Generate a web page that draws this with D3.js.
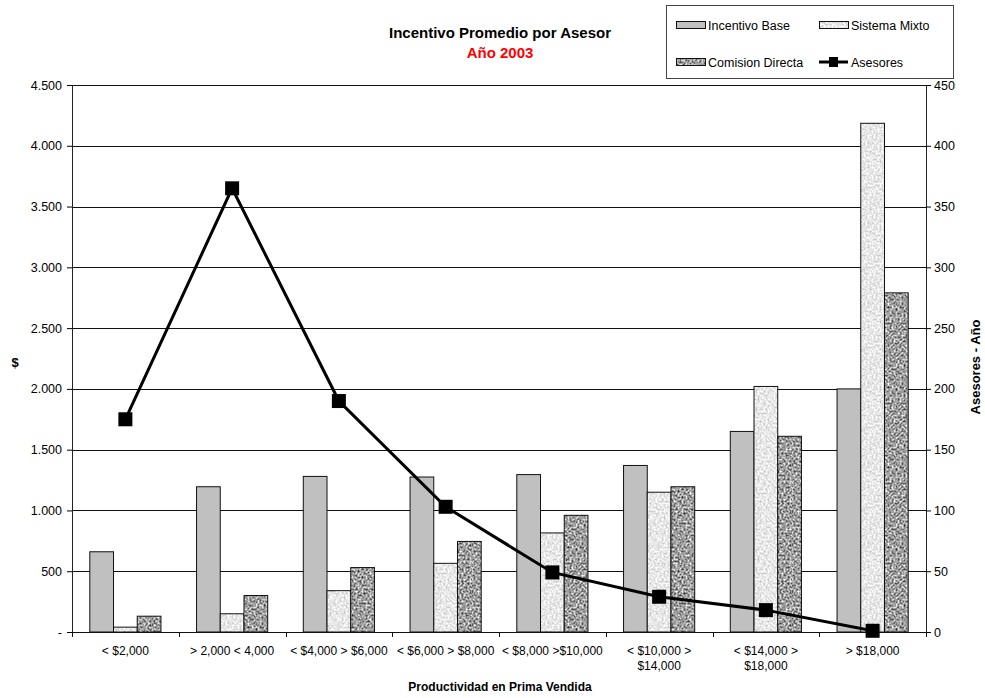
<!DOCTYPE html>
<html>
<head>
<meta charset="utf-8">
<script src="https://cdn.jsdelivr.net/npm/d3@7"></script>
<style>
  body { margin: 0; background: #fff; }
  text { font-family: Arial, "Liberation Sans", sans-serif; }
</style>
</head>
<body>
<svg id="chart" width="985" height="698"></svg>
<script>
var categories = ["< $2,000", "> 2,000 < 4,000", "< $4,000 > $6,000", "< $6,000 > $8,000",
                  "< $8,000 >$10,000", "< $10,000 >|$14,000", "< $14,000 >|$18,000", "> $18,000"];
var seriesNames = ["Incentivo Base", "Sistema Mixto", "Comision Directa"];
var incentivoBase = [660, 1195, 1280, 1275, 1295, 1370, 1650, 2000];
var sistemaMixto = [40, 150, 340, 565, 815, 1150, 2020, 4185];
var comisionDirecta = [130, 300, 530, 745, 960, 1195, 1610, 2790];
var asesores = [175, 365, 190, 103, 49, 29, 18, 1];
var leftTicks = [0, 500, 1000, 1500, 2000, 2500, 3000, 3500, 4000, 4500];
var rightTicks = [0, 50, 100, 150, 200, 250, 300, 350, 400, 450];

var svg = d3.select("#chart"),
    margin = {left: 72, right: 59, top: 85, bottom: 66},
    width = 985 - margin.left - margin.right,
    height = 698 - margin.top - margin.bottom;

var defs = svg.append("defs");

// grainy grey textures (noise -> grey levels, fully opaque)
function texture(id, k, b, freq, seed) {
  var f = defs.append("filter").attr("id", id + "-f")
      .attr("filterUnits", "userSpaceOnUse")
      .attr("color-interpolation-filters", "sRGB")
      .attr("x", 0).attr("y", 0).attr("width", 80).attr("height", 80);
  f.append("feTurbulence").attr("type", "fractalNoise")
    .attr("baseFrequency", freq).attr("numOctaves", 2).attr("seed", seed);
  f.append("feColorMatrix").attr("type", "matrix").attr("values", [
    k, 0, 0, 0, b,
    k, 0, 0, 0, b,
    k, 0, 0, 0, b,
    0, 0, 0, 0, 1].join(" "));
  var p = defs.append("pattern").attr("id", id)
      .attr("patternUnits", "userSpaceOnUse").attr("width", 80).attr("height", 80);
  p.append("rect").attr("width", 80).attr("height", 80).attr("fill", "#fff")
    .attr("filter", "url(#" + id + "-f)");
}
texture("mixto", 0.5, 0.66, 0.5, 3);
texture("comision", 1.4, -0.08, 0.5, 7);

var fills = ["#c0c0c0", "url(#mixto)", "url(#comision)"];
var values = [incentivoBase, sistemaMixto, comisionDirecta];

var g = svg.append("g").attr("transform", "translate(" + margin.left + "," + margin.top + ")");

var x0 = d3.scaleBand().domain(categories).range([0, width]);
// gap width 150%: three bars centred in each category
var x1 = d3.scaleBand().domain(seriesNames)
    .range([x0.bandwidth() * 0.75 / 4.5, x0.bandwidth() * 3.75 / 4.5]);

var y = d3.scaleLinear().domain([0, 4500]).range([height, 0]);
var y2 = d3.scaleLinear().domain([0, 450]).range([height, 0]);

// gridlines
g.append("g").selectAll("line").data(leftTicks.slice(1)).enter().append("line")
  .attr("x1", 0).attr("x2", width)
  .attr("y1", function(d) { return Math.round(y(d)) + 0.5; })
  .attr("y2", function(d) { return Math.round(y(d)) + 0.5; })
  .attr("stroke", "#111").attr("stroke-width", 1);

// bars
seriesNames.forEach(function(s, si) {
  g.append("g").selectAll("rect").data(values[si]).enter().append("rect")
    .attr("x", function(d, i) { return x0(categories[i]) + x1(s); })
    .attr("y", function(d) { return y(d); })
    .attr("width", x1.bandwidth())
    .attr("height", function(d) { return height - y(d); })
    .attr("fill", fills[si])
    .attr("stroke", "#111").attr("stroke-width", 1);
});

// left axis
var yAxis = d3.axisLeft(y).tickValues(leftTicks).tickSize(5).tickPadding(5)
  .tickFormat(function(d) { return d === 0 ? "-" : d3.format(",")(d).replace(/,/g, "."); });
var ya = g.append("g").call(yAxis);
ya.select(".domain").attr("stroke", "#222");
ya.selectAll("text").attr("font-size", 12.5).attr("fill", "#000");

// right axis
var y2Axis = d3.axisRight(y2).tickValues(rightTicks).tickSize(5).tickPadding(3);
var ya2 = g.append("g").attr("transform", "translate(" + width + ",0)").call(y2Axis);
ya2.select(".domain").attr("stroke", "#222");
ya2.selectAll("text").attr("font-size", 12.5).attr("fill", "#000");

// x axis
g.append("line").attr("x1", 0).attr("x2", width)
  .attr("y1", height + 0.5).attr("y2", height + 0.5).attr("stroke", "#111");
g.append("g").selectAll("line").data(d3.range(categories.length + 1)).enter().append("line")
  .attr("x1", function(i) { return Math.round(i * x0.step()) + 0.5; })
  .attr("x2", function(i) { return Math.round(i * x0.step()) + 0.5; })
  .attr("y1", height).attr("y2", height + 5).attr("stroke", "#111");
var xl = g.append("g").selectAll("text").data(categories).enter().append("text")
  .attr("text-anchor", "middle").attr("font-size", 12)
  .attr("transform", function(d) { return "translate(" + (x0(d) + x0.bandwidth() / 2) + "," + (height + 23) + ")"; });
xl.selectAll("tspan").data(function(d) { return d.split("|"); }).enter().append("tspan")
  .attr("x", 0).attr("dy", function(d, i) { return i ? 15 : 0; })
  .text(function(d) { return d; });

// asesores line
var line = d3.line()
  .x(function(d, i) { return x0(categories[i]) + x0.bandwidth() / 2; })
  .y(function(d) { return y2(d); });
g.append("path").datum(asesores).attr("d", line)
  .attr("fill", "none").attr("stroke", "#000").attr("stroke-width", 3);
g.append("g").selectAll("rect").data(asesores).enter().append("rect")
  .attr("x", function(d, i) { return x0(categories[i]) + x0.bandwidth() / 2 - 7; })
  .attr("y", function(d) { return y2(d) - 7; })
  .attr("width", 14).attr("height", 14).attr("fill", "#000");

// titles
svg.append("text").attr("x", 500).attr("y", 38).attr("text-anchor", "middle")
  .attr("font-size", 15).attr("font-weight", "bold").text("Incentivo Promedio por Asesor");
svg.append("text").attr("x", 500).attr("y", 58).attr("text-anchor", "middle")
  .attr("font-size", 15).attr("font-weight", "bold").attr("fill", "#ff0000").text("Año 2003");
svg.append("text").attr("x", 500).attr("y", 691).attr("text-anchor", "middle")
  .attr("font-size", 12).attr("font-weight", "bold").text("Productividad en Prima Vendida");
svg.append("text").attr("x", 15).attr("y", 367).attr("text-anchor", "middle")
  .attr("font-size", 13).attr("font-weight", "bold").text("$");
svg.append("text").attr("transform", "translate(980,367) rotate(-90)").attr("text-anchor", "middle")
  .attr("font-size", 13).attr("font-weight", "bold").text("Asesores - Año");

// legend
var lg = svg.append("g");
lg.append("rect").attr("x", 666.5).attr("y", 5.5).attr("width", 287).attr("height", 73)
  .attr("fill", "#fff").attr("stroke", "#444");
var legendItems = [
  {name: "Incentivo Base", fill: fills[0], x: 676, y: 25},
  {name: "Sistema Mixto", fill: fills[1], x: 819, y: 25},
  {name: "Comision Directa", fill: fills[2], x: 676, y: 62},
  {name: "Asesores", line: true, x: 819, y: 62}
];
legendItems.forEach(function(it) {
  if (it.line) {
    lg.append("line").attr("x1", it.x).attr("x2", it.x + 29).attr("y1", it.y).attr("y2", it.y)
      .attr("stroke", "#000").attr("stroke-width", 3);
    lg.append("rect").attr("x", it.x + 10).attr("y", it.y - 5).attr("width", 9).attr("height", 10).attr("fill", "#000");
  } else {
    lg.append("rect").attr("x", it.x + 0.5).attr("y", it.y - 3.5).attr("width", 29).attr("height", 7)
      .attr("fill", it.fill).attr("stroke", "#111");
  }
  lg.append("text").attr("x", it.x + 32).attr("y", it.y + 4.5).attr("font-size", 12.5).text(it.name);
});
</script>
</body>
</html>
